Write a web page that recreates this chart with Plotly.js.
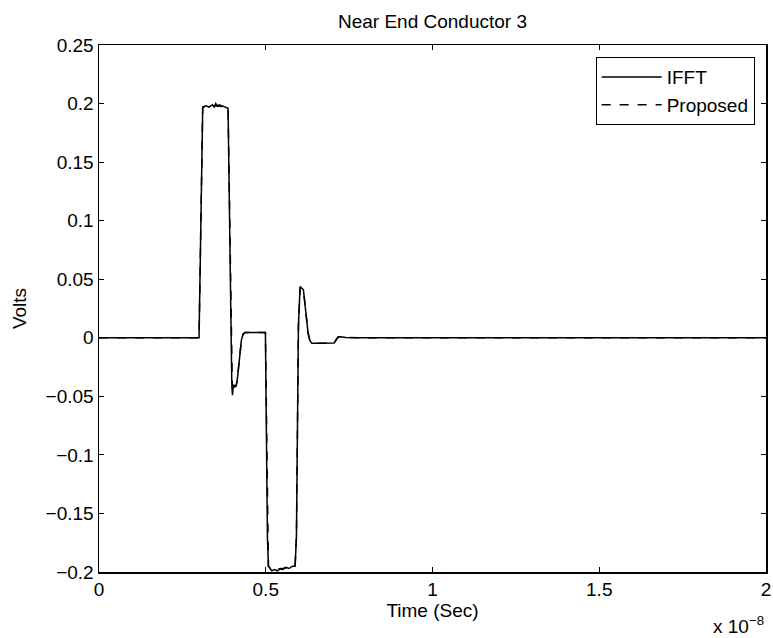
<!DOCTYPE html>
<html>
<head>
<meta charset="utf-8">
<script src="https://cdn.plot.ly/plotly-3.0.1.min.js"></script>
<style>html,body{margin:0;padding:0;background:#fff;}#chart{width:773px;height:638px;}</style>
</head>
<body>
<div id="chart"></div>
<script>
// Time in units of 1e-8 s
const timeIFFT = [0, 0.298, 0.300, 0.311, 0.32, 0.33, 0.34, 0.345, 0.35, 0.355, 0.36, 0.37, 0.38, 0.387,
  0.398, 0.400, 0.403, 0.407, 0.411, 0.414, 0.418, 0.422, 0.427, 0.432, 0.438, 0.46, 0.48, 0.499,
  0.505, 0.508, 0.513, 0.518, 0.525, 0.535, 0.545, 0.55, 0.56, 0.57, 0.58, 0.588,
  0.592, 0.598, 0.603, 0.608, 0.613, 0.617, 0.622, 0.627, 0.632, 0.638, 0.66, 0.68, 0.705,
  0.712, 0.718, 0.725, 0.74, 0.78, 1.0, 1.5, 2.0];
const voltsIFFT = [0, 0, 0, 0.197, 0.198, 0.197, 0.199, 0.197, 0.2, 0.198, 0.199, 0.198, 0.197, 0.196,
  -0.035, -0.049, -0.040, -0.042, -0.041, -0.037, -0.027, -0.013, -0.002, 0.003, 0.0045, 0.0045, 0.0045, 0.0045,
  -0.17, -0.195, -0.197, -0.199, -0.198, -0.199, -0.197, -0.198, -0.196, -0.197, -0.195, -0.195,
  -0.17, 0.01, 0.0437, 0.042, 0.041, 0.03, 0.015, 0.004, -0.002, -0.0047, -0.0047, -0.0047, -0.0045,
  -0.001, 0.0008, 0.0008, 0.0002, 0, 0, 0, 0];
const timeProposed = [0, 0.298, 0.300, 0.311, 0.35, 0.387,
  0.398, 0.400, 0.403, 0.411, 0.414, 0.418, 0.422, 0.427, 0.432, 0.438, 0.499,
  0.505, 0.508, 0.518, 0.55, 0.588,
  0.592, 0.598, 0.603, 0.613, 0.617, 0.622, 0.627, 0.632, 0.638, 0.705,
  0.712, 0.718, 0.725, 0.74, 0.78, 2.0];
const voltsProposed = [0, 0, 0, 0.197, 0.198, 0.197,
  -0.035, -0.047, -0.041, -0.041, -0.037, -0.027, -0.013, -0.002, 0.003, 0.0045, 0.0045,
  -0.17, -0.195, -0.198, -0.197, -0.195,
  -0.17, 0.01, 0.043, 0.041, 0.03, 0.015, 0.004, -0.002, -0.0047, -0.0045,
  -0.001, 0.0008, 0.0008, 0.0002, 0, 0];
const xTicks = [0, 0.5, 1, 1.5, 2];
const xTickText = ['0', '0.5', '1', '1.5', '2'];
const yTicks = [-0.2, -0.15, -0.1, -0.05, 0, 0.05, 0.1, 0.15, 0.2, 0.25];
const yTickText = ['\u22120.2', '\u22120.15', '\u22120.1', '\u22120.05', '0', '0.05', '0.1', '0.15', '0.2', '0.25'];
const seriesNames = ['IFFT', 'Proposed'];

const FONT = 'Liberation Sans, Arial, Helvetica, sans-serif';
const FS = 19;
const traces = [
  {x: timeIFFT, y: voltsIFFT, name: seriesNames[0], mode: 'lines', line: {color: '#000', width: 1.5}},
  {x: timeProposed, y: voltsProposed, name: seriesNames[1], mode: 'lines', line: {color: '#000', width: 1.5, dash: 'dash'}}
];
const axisCommon = {showline: true, linecolor: '#000', linewidth: 1.5, mirror: 'allticks', ticks: 'inside',
  ticklen: 5, tickcolor: '#000', tickwidth: 1, showgrid: false, zeroline: false,
  tickfont: {family: FONT, size: FS, color: '#000'}};
const layout = {
  width: 773, height: 638,
  margin: {l: 99, r: 7, t: 45, b: 66},
  paper_bgcolor: '#fff', plot_bgcolor: '#fff',
  font: {family: FONT, size: FS, color: '#000'},
  title: {text: 'Near End Conductor 3', xref: 'paper', x: 0.5, xanchor: 'center', y: 0.966, yanchor: 'middle',
    font: {family: FONT, size: FS, color: '#000'}},
  xaxis: Object.assign({}, axisCommon, {range: [0, 2], tickvals: xTicks, ticktext: xTickText,
    title: {text: 'Time (Sec)', standoff: 1, font: {family: FONT, size: FS, color: '#000'}}}),
  yaxis: Object.assign({}, axisCommon, {range: [-0.2, 0.25], tickvals: yTicks, ticktext: yTickText,
    title: {text: 'Volts', standoff: 14, font: {family: FONT, size: FS, color: '#000'}}}),
  showlegend: true,
  legend: {x: 0.983, xanchor: 'right', y: 0.977, yanchor: 'top', bordercolor: '#000', borderwidth: 1,
    bgcolor: '#fff', font: {family: FONT, size: FS, color: '#000'}, itemwidth: 60, tracegroupgap: 0},
  annotations: [{xref: 'paper', yref: 'paper', x: 1, y: -0.1, xanchor: 'right', yanchor: 'middle',
    text: 'x 10<sup>\u22128</sup>', showarrow: false, font: {family: FONT, size: FS, color: '#000'}}]
};
Plotly.newPlot('chart', traces, layout, {displayModeBar: false, staticPlot: true});
</script>
</body>
</html>
